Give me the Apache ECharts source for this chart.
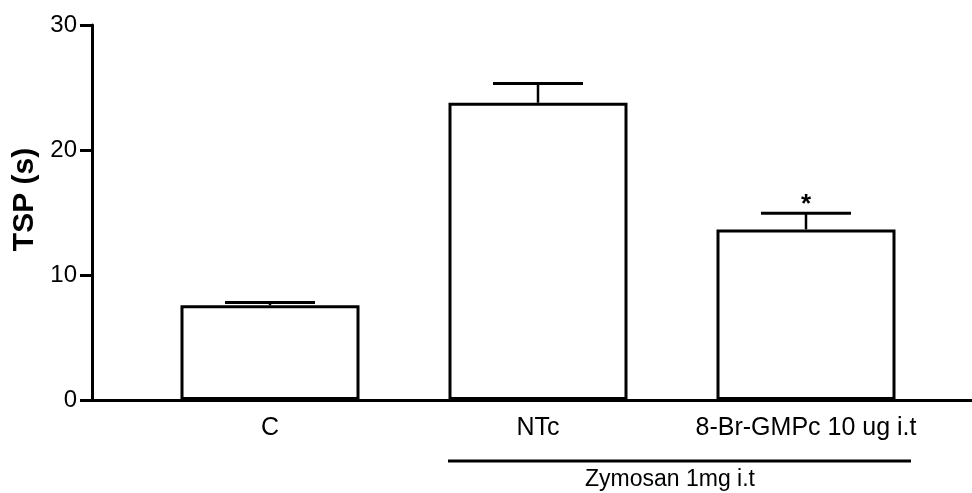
<!DOCTYPE html>
<html>
<head>
<meta charset="utf-8">
<script src="https://cdn.jsdelivr.net/npm/echarts@6/dist/echarts.min.js"></script>
<style>
html,body{margin:0;padding:0;background:#fff;}
#chart{width:972px;height:493px;}
</style>
</head>
<body>
<div id="chart"></div>
<script>
var categories = ['C', 'NTc', '8-Br-GMPc 10 ug i.t'];
var means = [7.58, 23.78, 13.65];
var errors = [0.23, 1.55, 1.29];
var significance = ['', '', '*'];
var yTicks = [0, 10, 20, 30];
var groupLabel = 'Zymosan 1mg i.t';

var FONT = 'Liberation Sans, Arial, Helvetica, sans-serif';
var chart = echarts.init(document.getElementById('chart'), null, {renderer: 'canvas'});

var errData = means.map(function (m, i) { return [i, m, m + errors[i], significance[i]]; });

var option = {
  backgroundColor: '#fff',
  animation: false,
  grid: [
    {left: 92, right: 0, top: 25, bottom: 93},
    {left: 136, width: 804, top: 25, bottom: 93}
  ],
  xAxis: [
    {
      gridIndex: 0, type: 'value', min: 0, max: 1,
      axisLine: {show: true, onZero: false, lineStyle: {color: '#000', width: 3}},
      axisTick: {show: false}, axisLabel: {show: false}, splitLine: {show: false}
    },
    {
      gridIndex: 1, type: 'category', data: categories,
      axisLine: {show: false}, axisTick: {show: false}, splitLine: {show: false},
      axisLabel: {color: '#000', fontSize: 25, fontFamily: FONT, margin: 16, interval: 0, hideOverlap: false}
    }
  ],
  yAxis: [
    {
      gridIndex: 0, type: 'value', min: yTicks[0], max: yTicks[yTicks.length - 1], interval: 10,
      name: 'TSP (s)', nameLocation: 'middle', nameGap: 48,
      nameTextStyle: {color: '#000', fontSize: 30, fontWeight: 'bold', fontFamily: FONT, padding: [0, 0, 0, 26]},
      axisLine: {show: true, lineStyle: {color: '#000', width: 3}},
      axisTick: {show: true, length: 12, lineStyle: {color: '#000', width: 3}},
      axisLabel: {color: '#000', fontSize: 24, fontFamily: FONT, margin: 15},
      splitLine: {show: false}
    },
    {
      gridIndex: 1, type: 'value', min: yTicks[0], max: yTicks[yTicks.length - 1],
      show: false
    }
  ],
  series: [
    {
      type: 'bar', xAxisIndex: 1, yAxisIndex: 1, data: means, barWidth: 179,
      itemStyle: {color: '#fff', borderColor: '#000', borderWidth: 3},
      z: 3
    },
    {
      type: 'custom', xAxisIndex: 1, yAxisIndex: 1, data: errData, z: 4,
      renderItem: function (params, api) {
        var base = api.coord([api.value(0), api.value(1)]);
        var top = api.coord([api.value(0), api.value(2)]);
        var hw = 45;
        var style = {stroke: '#000', lineWidth: 3};
        var children = [
          {type: 'line', shape: {x1: base[0], y1: base[1], x2: top[0], y2: top[1]}, style: {stroke: '#000', lineWidth: 2.5}},
          {type: 'line', shape: {x1: top[0] - hw, y1: top[1], x2: top[0] + hw, y2: top[1]}, style: style}
        ];
        var s = significance[params.dataIndex];
        if (s) {
          children.push({type: 'text', x: top[0], y: top[1] - 8, style: {text: s, fill: '#000', fontSize: 26, fontWeight: 'bold', fontFamily: FONT, align: 'center', verticalAlign: 'middle'}});
        }
        return {type: 'group', children: children};
      }
    }
  ],
  graphic: [
    {type: 'line', shape: {x1: 448, y1: 461, x2: 911, y2: 461}, style: {stroke: '#000', lineWidth: 3}},
    {type: 'text', x: 670, y: 480, style: {text: groupLabel, fill: '#000', fontSize: 23, fontFamily: FONT, align: 'center', verticalAlign: 'middle'}}
  ]
};
chart.setOption(option);
</script>
</body>
</html>
